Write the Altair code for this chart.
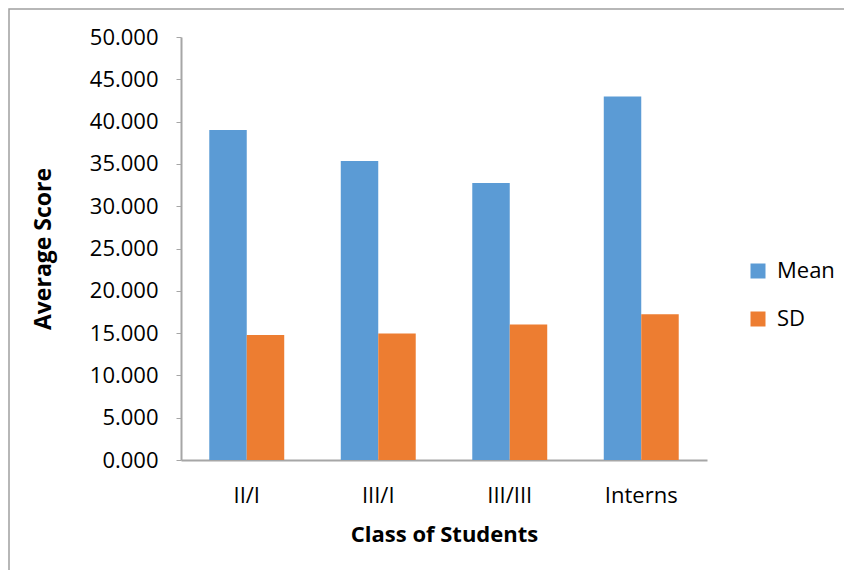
import altair as alt
import pandas as pd

classes = ["II/I", "III/I", "III/III", "Interns"]
mean_vals = [39.0, 35.35, 32.75, 42.97]
sd_vals = [14.78, 14.95, 16.02, 17.24]
series = ["Mean", "SD"]
colors = ["#5B9BD5", "#ED7D31"]

rows = []
for c, m, s in zip(classes, mean_vals, sd_vals):
    rows.append({"Class": c, "Series": "Mean", "Value": m})
    rows.append({"Class": c, "Series": "SD", "Value": s})
df = pd.DataFrame(rows)

FONT = "Open Sans"

bars = alt.Chart(df).mark_bar().encode(
    x=alt.X("Class:N", sort=classes,
            scale=alt.Scale(paddingInner=0.43, paddingOuter=0.215),
            axis=alt.Axis(title="Class of Students", labelAngle=0, ticks=False,
                          labelFontSize=22, labelFont=FONT, labelColor="#000000",
                          labelPadding=25, titleFontSize=22, titleFont=FONT,
                          titleFontWeight="bold", titleColor="#000000",
                          titlePadding=18, domainColor="#A6A6A6", domainWidth=2)),
    xOffset=alt.XOffset("Series:N", sort=series, scale=alt.Scale(paddingInner=0, paddingOuter=0)),
    y=alt.Y("Value:Q", scale=alt.Scale(domain=[0, 50], nice=False),
            axis=alt.Axis(title="Average Score", values=[0, 5, 10, 15, 20, 25, 30, 35, 40, 45, 50],
                          format=".3f", grid=False, tickSize=5, tickColor="#A6A6A6",
                          labelFontSize=22, labelFont=FONT, labelColor="#000000",
                          labelPadding=18, titleFontSize=23, titleFont=FONT,
                          titleFontWeight="bold", titleColor="#000000", titlePadding=34,
                          domainColor="#A6A6A6", domainWidth=2)),
    color=alt.Color("Series:N", sort=series,
                    scale=alt.Scale(domain=series, range=colors),
                    legend=alt.Legend(title=None, orient="none", legendX=566, legendY=223,
                                      symbolType="square", symbolSize=225,
                                      symbolStrokeWidth=0, labelFontSize=22, labelFont=FONT,
                                      labelColor="#000000", rowPadding=26, labelOffset=8)),
)

border = alt.Chart(pd.DataFrame({"a": [0]})).mark_rect(
    fill=None, stroke="#A0A0A0", strokeWidth=1.5
).encode(
    x=alt.value(-172), x2=alt.value(760), y=alt.value(-28), y2=alt.value(650)
)

chart = alt.layer(border, bars).properties(
    width=526, height=423,
    padding={"left": 173, "top": 29, "right": 137, "bottom": 110},
    autosize=alt.AutoSizeParams(type="none"),
).configure(background="white").configure_view(stroke=None)

chart.save("out.html", embed_options={"renderer": "svg", "actions": False})
